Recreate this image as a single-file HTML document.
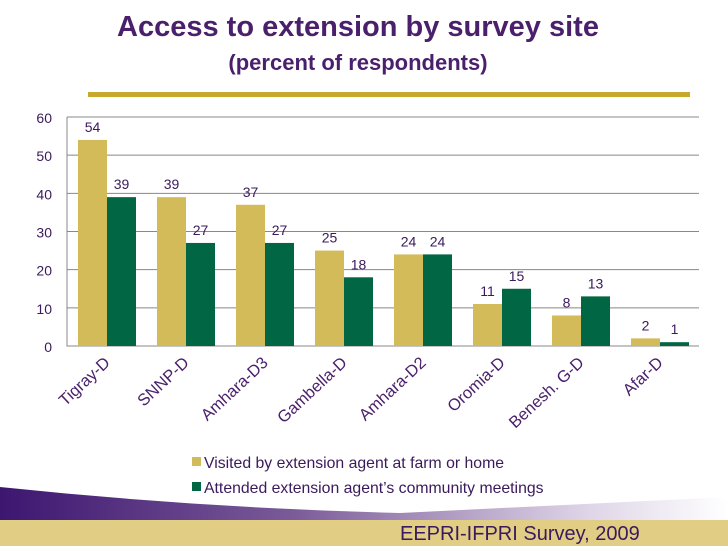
<!DOCTYPE html>
<html><head><meta charset="utf-8"><style>
body{margin:0;width:728px;height:546px;overflow:hidden;background:#fff;font-family:"Liberation Sans",sans-serif;position:relative}
</style></head><body>
<svg width="728" height="546" viewBox="0 0 728 546" xmlns="http://www.w3.org/2000/svg">
<defs>
<linearGradient id="pg" x1="0" x2="1" y1="0" y2="0">
<stop offset="0" stop-color="#3d1670"/><stop offset="0.4" stop-color="#7a5a98"/><stop offset="0.8" stop-color="#ddd3e6"/><stop offset="1" stop-color="#ffffff"/>
</linearGradient>
</defs>
<text x="358" y="36" text-anchor="middle" font-size="29" font-weight="bold" fill="#4a1f6b">Access to extension by survey site</text>
<text x="358" y="70" text-anchor="middle" font-size="22" font-weight="bold" fill="#4a1f6b">(percent of respondents)</text>
<rect x="88" y="92" width="602" height="5" fill="#c6a92c"/>
<path d="M0 487 Q200 508 400 513 L728 497 L728 521 L0 521 Z" fill="url(#pg)"/>
<rect x="0" y="520" width="728" height="26" fill="#e2cd84"/>
<text x="400" y="540" font-size="20" fill="#3a1a5c">EEPRI-IFPRI Survey, 2009</text>
<g id="plot"></g>
<rect x="192" y="457" width="9" height="9" fill="#d4bb5a"/>
<text x="204" y="468" font-size="15.8" fill="#3a1a5c">Visited by extension agent at farm or home</text>
<rect x="192" y="482" width="9" height="9" fill="#006644"/>
<text x="204" y="493" font-size="15.8" fill="#3a1a5c">Attended extension agent’s community meetings</text>
</svg>
<script>
const categories=["Tigray-D","SNNP-D","Amhara-D3","Gambella-D","Amhara-D2","Oromia-D","Benesh. G-D","Afar-D"];
const visited=[54,39,37,25,24,11,8,2];
const attended=[39,27,27,18,24,15,13,1];
const ticks=[0,10,20,30,40,50,60];
const NS="http://www.w3.org/2000/svg";
const g=document.getElementById('plot');
const L=67,R=699,T=117,B=346,maxV=60;
const y=v=>B-(v/maxV)*(B-T);
const gw=(R-L)/categories.length;
const x=i=>L+i*gw;
function mk(tag,attrs,txt){const e=document.createElementNS(NS,tag);for(const k in attrs)e.setAttribute(k,attrs[k]);if(txt!==undefined)e.textContent=txt;g.appendChild(e);return e;}
ticks.forEach(t=>{
  if(t>0){const l=mk('line',{x1:L,x2:R,y1:y(t),y2:y(t),stroke:'#888','stroke-width':1});
  
  }
  const tx=mk('text',{x:52,y:y(t)+6,'text-anchor':'end','font-size':14,fill:'#3a1a5c'},t);
  
  
});
const ax=mk('path',{d:`M${L} ${T} L${L} ${B} L${R} ${B}`,stroke:'#888',fill:'none'});


const bw=29,off=11;
categories.forEach((c,i)=>{
  [[visited,'#d4bb5a',0,'bar-visited'],[attended,'#006644',1,'bar-attended']].forEach(([arr,col,k,nm])=>{
    const bx=x(i)+off+k*bw;
    const r=mk('rect',{x:bx,y:y(arr[i]),width:bw,height:B-y(arr[i]),fill:col});
    
    
    const t=mk('text',{x:bx+bw/2,y:y(arr[i])-8,'text-anchor':'middle','font-size':14,fill:'#3a1a5c'},arr[i]);
    
    
  });
  const cx=x(i)+off+bw+4;
  const t=mk('text',{x:cx,y:364,'text-anchor':'end','font-size':16.5,fill:'#4a1f6b',transform:`rotate(-43 ${cx} 364)`},c);
  
  
});
</script>
</body></html>
